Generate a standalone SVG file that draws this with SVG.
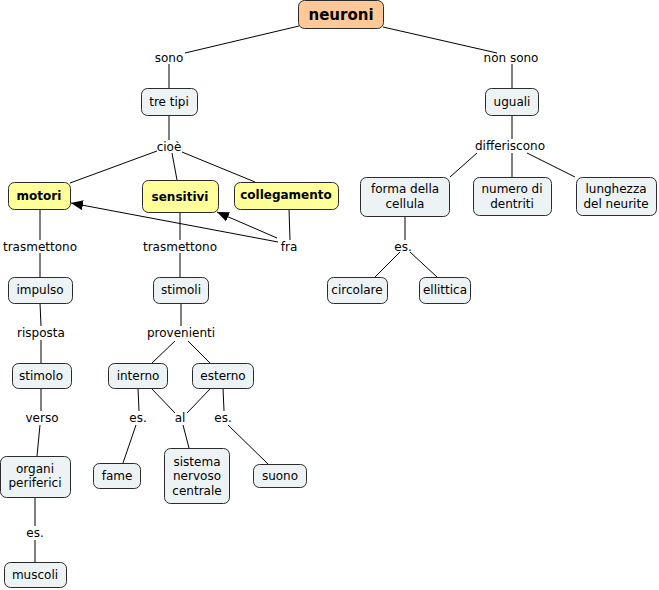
<svg xmlns="http://www.w3.org/2000/svg" width="659" height="590" viewBox="0 0 659 590">
<style>
text{font-family:"DejaVu Sans","Liberation Sans",sans-serif;font-size:12px;fill:#000;text-anchor:middle}
.n rect{fill:#EDF3F4;stroke:#2a2a2a;stroke-width:1}
.y rect{fill:#FFFF99;stroke:#2a2a2a;stroke-width:1}
.y text{font-weight:bold}
.o rect{fill:#FFC896;stroke:#2a2a2a;stroke-width:1}
.o text{font-weight:bold;font-size:15px}
#c line{stroke:#000;stroke-width:1}
.lbl{fill:#000}
</style>
<defs>
<marker id="ah" viewBox="0 0 12 10" refX="12" refY="5" markerWidth="12" markerHeight="10" markerUnits="userSpaceOnUse" orient="auto">
<path d="M0,0 L12,5 L0,10 z" fill="#000"/>
</marker>
</defs>
<rect width="659" height="590" fill="#fff"/>
<g id="c">
<line x1="299" y1="26" x2="185" y2="53"/>
<line x1="169" y1="64" x2="169" y2="88"/>
<line x1="383" y1="27" x2="497" y2="53"/>
<line x1="512" y1="64" x2="512" y2="88"/>
<line x1="169" y1="115" x2="169" y2="140"/>
<line x1="157" y1="151" x2="70" y2="183"/>
<line x1="172" y1="153" x2="177" y2="180"/>
<line x1="182" y1="152" x2="255" y2="182"/>
<line x1="40" y1="209" x2="40" y2="240"/>
<line x1="180" y1="212" x2="180" y2="240"/>
<line x1="289" y1="209" x2="290" y2="240"/>
<line x1="278" y1="242" x2="71" y2="203" marker-end="url(#ah)"/>
<line x1="277" y1="238" x2="217" y2="212" marker-end="url(#ah)"/>
<line x1="40" y1="253" x2="40" y2="277"/>
<line x1="180" y1="253" x2="180" y2="277"/>
<line x1="40" y1="303" x2="41" y2="326"/>
<line x1="41" y1="340" x2="41" y2="363"/>
<line x1="181" y1="303" x2="181" y2="326"/>
<line x1="175" y1="341" x2="152" y2="363"/>
<line x1="188" y1="341" x2="210" y2="363"/>
<line x1="41" y1="388" x2="41" y2="411"/>
<line x1="40" y1="425" x2="37" y2="456"/>
<line x1="138" y1="388" x2="139" y2="411"/>
<line x1="151" y1="388" x2="175" y2="413"/>
<line x1="211" y1="388" x2="187" y2="413"/>
<line x1="223" y1="388" x2="224" y2="411"/>
<line x1="136" y1="425" x2="123" y2="463"/>
<line x1="183" y1="425" x2="189" y2="448"/>
<line x1="228" y1="425" x2="268" y2="464"/>
<line x1="35" y1="497" x2="35" y2="526"/>
<line x1="35" y1="540" x2="35" y2="562"/>
<line x1="512" y1="115" x2="512" y2="139"/>
<line x1="477" y1="153" x2="450" y2="177"/>
<line x1="512" y1="153" x2="512" y2="177"/>
<line x1="527" y1="153" x2="575" y2="177"/>
<line x1="405" y1="216" x2="405" y2="240"/>
<line x1="400" y1="252" x2="375" y2="277"/>
<line x1="410" y1="252" x2="437" y2="277"/>
</g>
<g id="labels">
<text x="169" y="62">sono</text>
<text x="511" y="62">non sono</text>
<text x="169" y="151">cioè</text>
<text x="510" y="150">differiscono</text>
<text x="40" y="251">trasmettono</text>
<text x="180" y="251">trasmettono</text>
<text x="289" y="251">fra</text>
<text x="403" y="251">es.</text>
<text x="41" y="337">risposta</text>
<text x="181" y="337">provenienti</text>
<text x="42" y="422">verso</text>
<text x="138" y="422">es.</text>
<text x="180" y="422">al</text>
<text x="223" y="422">es.</text>
<text x="35" y="537">es.</text>
</g>
<g id="neuroni" class="o"><rect x="298.5" y="0.5" width="85" height="28" rx="6"/><text x="341" y="20">neuroni</text></g>
<g id="tretipi" class="n"><rect x="141.5" y="88.5" width="56" height="27" rx="6"/><text x="169" y="106">tre tipi</text></g>
<g id="uguali" class="n"><rect x="485.5" y="88.5" width="53" height="27" rx="6"/><text x="512" y="106">uguali</text></g>
<g id="motori" class="y"><rect x="8.5" y="182.5" width="62" height="27" rx="6"/><text x="39" y="200">motori</text></g>
<g id="sensitivi" class="y"><rect x="142.5" y="180.5" width="76" height="32" rx="6"/><text x="180" y="201">sensitivi</text></g>
<g id="collegamento" class="y"><rect x="234.5" y="182.5" width="104" height="27" rx="6"/><text x="286" y="199">collegamento</text></g>
<g id="forma" class="n"><rect x="360.5" y="177.5" width="89" height="39" rx="6"/><text x="405" y="193">forma della</text><text x="405" y="208">cellula</text></g>
<g id="numero" class="n"><rect x="473.5" y="177.5" width="78" height="38" rx="6"/><text x="512" y="193">numero di</text><text x="512" y="208">dentriti</text></g>
<g id="lunghezza" class="n"><rect x="576.5" y="177.5" width="80" height="38" rx="6"/><text x="616" y="193">lunghezza</text><text x="616" y="208">del neurite</text></g>
<g id="impulso" class="n"><rect x="8.5" y="277.5" width="64" height="26" rx="6"/><text x="40" y="294">impulso</text></g>
<g id="stimoli" class="n"><rect x="153.5" y="277.5" width="55" height="26" rx="6"/><text x="181" y="294">stimoli</text></g>
<g id="circolare" class="n"><rect x="327.5" y="277.5" width="60" height="26" rx="6"/><text x="357" y="294">circolare</text></g>
<g id="ellittica" class="n"><rect x="419.5" y="277.5" width="51" height="26" rx="6"/><text x="445" y="294">ellittica</text></g>
<g id="stimolo" class="n"><rect x="12.5" y="363.5" width="59" height="25" rx="6"/><text x="41" y="380">stimolo</text></g>
<g id="interno" class="n"><rect x="108.5" y="363.5" width="59" height="25" rx="6"/><text x="138" y="380">interno</text></g>
<g id="esterno" class="n"><rect x="192.5" y="363.5" width="61" height="25" rx="6"/><text x="223" y="380">esterno</text></g>
<g id="organi" class="n"><rect x="0.5" y="456.5" width="70" height="41" rx="6"/><text x="35" y="473">organi</text><text x="35" y="487">periferici</text></g>
<g id="fame" class="n"><rect x="93.5" y="463.5" width="47" height="25" rx="6"/><text x="117" y="480">fame</text></g>
<g id="sistema" class="n"><rect x="164.5" y="448.5" width="65" height="55" rx="6"/><text x="197" y="466">sistema</text><text x="197" y="480">nervoso</text><text x="197" y="495">centrale</text></g>
<g id="suono" class="n"><rect x="253.5" y="464.5" width="53" height="23" rx="6"/><text x="280" y="480">suono</text></g>
<g id="muscoli" class="n"><rect x="4.5" y="562.5" width="62" height="25" rx="6"/><text x="35" y="579">muscoli</text></g>
</svg>
